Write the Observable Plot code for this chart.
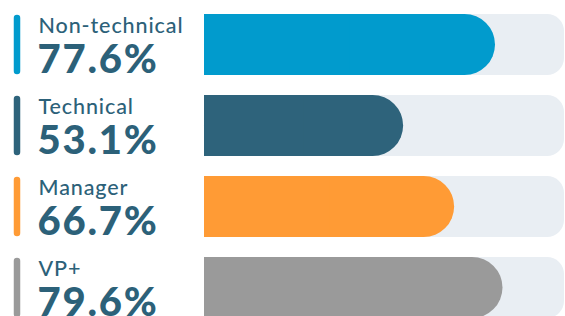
<!DOCTYPE html>
<html>
<head>
<meta charset="utf-8">
<script src="https://cdn.jsdelivr.net/npm/d3@7"></script>
<script src="https://cdn.jsdelivr.net/npm/@observablehq/plot@0.6"></script>
<style>
  html, body { margin: 0; padding: 0; background: #fff; }
  #chart { width: 565px; height: 316px; overflow: hidden; }
</style>
</head>
<body>
<div id="chart"></div>
<script>
const categories = ["Non-technical", "Technical", "Manager", "VP+"];
const values = [77.6, 53.1, 66.7, 79.6];
const valueLabels = ["77.6%", "53.1%", "66.7%", "79.6%"];
const colors = ["#019bcd", "#2e637b", "#ff9b35", "#9a9a9a"];
const trackMax = 100;

const data = categories.map((name, i) => ({
  name, value: values[i], label: valueLabels[i], color: colors[i], max: trackMax
}));

const textColor = "#2c6179";
const font = "Lato, 'Open Sans', sans-serif";

const chart = Plot.plot({
  width: 565,
  height: 316,
  margin: 0,
  style: { background: "#ffffff", overflow: "hidden" },
  x: { domain: [0, trackMax], range: [204, 579], axis: null },
  y: { domain: categories, range: [13, 318], paddingInner: 0.25, paddingOuter: 0, axis: null },
  color: { type: "identity" },
  marks: [
    Plot.barX(data, { x1: 0, x2: "max", y: "name", fill: "#e9eef3", rx: 17, insetRight: 15 }),
    Plot.barX(data, { x1: 0, x2: "value", y: "name", fill: "color", rx: 30.5 }),
    Plot.barX(data, { x1: 0, x2: d => d.value / 2, y: "name", fill: "color" }),
    Plot.tickX(data, { x: 0, y: "name", dx: -187.5, stroke: "color", strokeWidth: 6.5,
      strokeLinecap: "round", insetTop: 4, insetBottom: 4 }),
    Plot.text(data, { x: 0, y: "name", text: "name", dx: -166, dy: -12.5, textAnchor: "start",
      lineAnchor: "bottom", fill: textColor, fontSize: 21.5, fontFamily: font, fontWeight: 500 }),
    Plot.text(data, { x: 0, y: "name", text: "label", dx: -167, dy: 27.5, textAnchor: "start",
      lineAnchor: "bottom", fill: textColor, fontSize: 40, fontFamily: font, fontWeight: 900 })
  ]
});
const textGroups = d3.select(chart).selectAll("g[aria-label='text']").nodes();
if (textGroups[0]) textGroups[0].setAttribute("letter-spacing", "0.9");
if (textGroups[1]) textGroups[1].setAttribute("letter-spacing", "1.8");
document.getElementById("chart").appendChild(chart);
</script>
</body>
</html>
